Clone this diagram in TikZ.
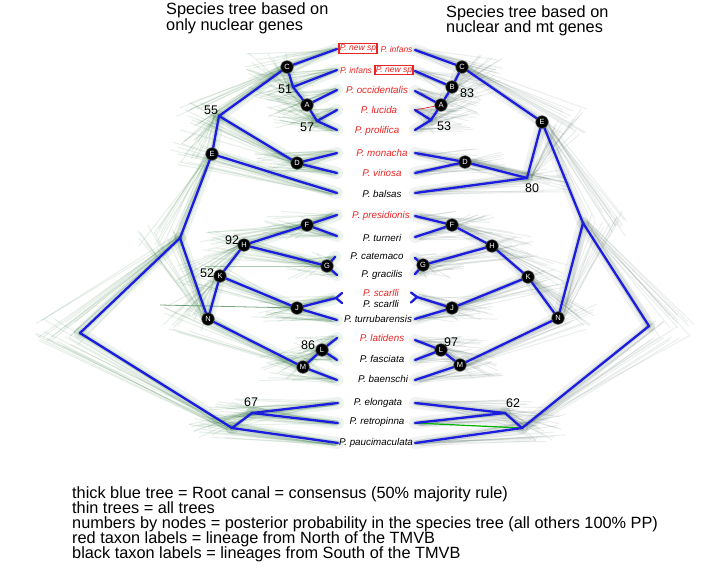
\documentclass[tikz,border=0pt]{standalone}
\usepackage{fontspec}
\setmainfont{Liberation Sans}
\usetikzlibrary{calc}
\definecolor{treeblue}{RGB}{28,28,225}
\definecolor{labred}{RGB}{232,36,36}
\definecolor{cloudL}{RGB}{30,105,45}
\definecolor{cloudR}{RGB}{70,100,85}
\tikzset{
  consensus/.style={draw=treeblue, line width=2.3pt, line cap=round, line join=round},
  haloL/.style={draw=cloudL, line width=12pt, opacity=0.08, line cap=round},
  haloR/.style={draw=cloudR, line width=12pt, opacity=0.08, line cap=round},
  coreL/.style={draw=cloudL, line width=5pt, opacity=0.14, line cap=round},
  coreR/.style={draw=cloudR, line width=5pt, opacity=0.14, line cap=round},
  fuzzL/.style={draw=cloudL, line width=1pt, opacity=0.11},
  fuzzR/.style={draw=cloudR, line width=1pt, opacity=0.11},
  clade/.style={circle, fill=black, draw=black!70, line width=0.6pt, inner sep=0pt, minimum size=12.5pt, text=white, font=\fontsize{7.5}{8}\selectfont},
  pp/.style={font=\fontsize{12.5}{13}\selectfont, inner sep=0pt},
  taxon/.style={font=\fontsize{9.8}{10}\selectfont\itshape, inner sep=0pt, anchor=base},
  redtaxon/.style={taxon, text=labred},
  blacktaxon/.style={taxon, text=black},
  smallred/.style={font=\fontsize{8.5}{9}\selectfont\itshape, inner sep=0pt, text=labred},
  newsp/.style={font=\fontsize{8.5}{9}\selectfont\itshape, text=labred, draw=labred, line width=1.3pt, inner sep=1pt},
  bigtext/.style={font=\fontsize{16.3}{15}\selectfont, anchor=base west, inner sep=0pt},
}
\begin{document}
\begin{tikzpicture}[x=1pt,y=-1pt]
\useasboundingbox (0,0) rectangle (709,568);
% ---------------- left tree coordinates
\coordinate (Lt1) at (337,49);  \coordinate (Lt2) at (337,70);
\coordinate (Lt3) at (337,90);  \coordinate (Lt4) at (337,110);
\coordinate (Lt5) at (337,130); \coordinate (Lt6) at (337,153);
\coordinate (Lt7) at (337,173); \coordinate (Lt8) at (337,193);
\coordinate (Lt9) at (337,215); \coordinate (Lt10) at (337,236);
\coordinate (Lt11) at (335,257); \coordinate (Lt12) at (337,275);
\coordinate (Lsc) at (336,298); \coordinate (Lsca) at (342,293); \coordinate (Lscb) at (342,303);
\coordinate (Lt14) at (337,320); \coordinate (Lt15) at (337,338);
\coordinate (Lt16) at (337,360); \coordinate (Lt17) at (337,380);
\coordinate (Lt18) at (338,403); \coordinate (Lt19) at (338,423);
\coordinate (Lt20) at (338,443);
\coordinate (LC) at (287,67);  \coordinate (L51) at (293,87);
\coordinate (LA) at (307,105); \coordinate (L57) at (317,121);
\coordinate (L55) at (219,116); \coordinate (LE) at (212,154);
\coordinate (LD) at (297,163); \coordinate (LF) at (307,225);
\coordinate (LG) at (327,266); \coordinate (LH) at (244,245);
\coordinate (LK) at (220,276); \coordinate (LJ) at (297,308);
\coordinate (LN) at (208,319); \coordinate (LM) at (303,367);
\coordinate (LL) at (322,350); \coordinate (Ling) at (180,238);
\coordinate (Lroot) at (80,333); \coordinate (L67) at (252,413);
\coordinate (Log) at (232,428);
\coordinate (Lx1) at (160,305); \coordinate (Lx2) at (205,266);
% ---------------- right tree coordinates
\coordinate (Rt1) at (415,50);  \coordinate (Rt2) at (415,71);
\coordinate (Rt3) at (415,91);  \coordinate (Rt4) at (415,110);
\coordinate (Rt5) at (415,130); \coordinate (Rt6) at (415,153);
\coordinate (Rt7) at (415,173); \coordinate (Rt8) at (415,193);
\coordinate (Rt9) at (415,216); \coordinate (Rt10) at (415,237);
\coordinate (Rt11) at (415,258); \coordinate (Rt12) at (415,274);
\coordinate (Rsc) at (417,297); \coordinate (Rsca) at (411,292.5); \coordinate (Rscb) at (411,302.5);
\coordinate (Rt14) at (415,319); \coordinate (Rt15) at (415,340);
\coordinate (Rt16) at (415,360); \coordinate (Rt17) at (415,380);
\coordinate (Rt18) at (415,403); \coordinate (Rt19) at (415,423);
\coordinate (Rt20) at (415,443);
\coordinate (RC) at (462,67);  \coordinate (RB) at (452,87);
\coordinate (RA) at (441,105); \coordinate (R53) at (431,120);
\coordinate (RE) at (542,122); \coordinate (RD) at (465,162);
\coordinate (R80) at (527,178); \coordinate (RF) at (452,225);
\coordinate (RG) at (423,265); \coordinate (RH) at (492,246);
\coordinate (RK) at (528,277); \coordinate (RJ) at (452,308);
\coordinate (RN) at (558,318); \coordinate (RM) at (460,365);
\coordinate (RL) at (441,350); \coordinate (Ring) at (583,223);
\coordinate (Rroot) at (649,326); \coordinate (R62) at (505,413);
\coordinate (Rog) at (522,428);
% ---------------- cloud of all trees
\pgfmathsetseed{11}
\foreach \a/\b in {Lroot/Ling, Lroot/Log, Ling/LE, Ling/LN, LE/L55, LE/Lt8, L55/LC, L55/LD, LD/Lt6, LD/Lt7, LC/Lt1, LC/L51, L51/Lt2, L51/LA, LA/Lt3, LA/L57, L57/Lt4, L57/Lt5, LN/LK, LN/LM, LK/LH, LK/LJ, LH/LF, LH/LG, LF/Lt9, LF/Lt10, LG/Lt11, LG/Lt12, LJ/Lsc, LJ/Lt14, LM/LL, LM/Lt17, LL/Lt15, LL/Lt16, Log/L67, Log/Lt20, L67/Lt18, L67/Lt19}{
  \draw[haloL] (\a) -- (\b);
  \draw[coreL] (\a) -- (\b);
  \foreach \i in {1,...,14}{
    \draw[fuzzL] ($(\a)+({-45*rnd},{14*rand})$) -- ($(\b)+({-6*rnd},{3*rand})$);
  }
}
\foreach \a/\b in {Rroot/Ring, Rroot/Rog, Ring/RE, Ring/RN, RE/RC, RE/R80, R80/RD, R80/Rt8, RD/Rt6, RD/Rt7, RC/Rt1, RC/RB, RB/Rt2, RB/RA, RA/Rt3, RA/R53, R53/Rt4, R53/Rt5, RN/RK, RN/RM, RK/RH, RK/RJ, RH/RF, RH/RG, RF/Rt9, RF/Rt10, RG/Rt11, RG/Rt12, RJ/Rsc, RJ/Rt14, RM/RL, RM/Rt17, RL/Rt15, RL/Rt16, Rog/R62, Rog/Rt20, R62/Rt18, R62/Rt19}{
  \draw[haloR] (\a) -- (\b);
  \draw[coreR] (\a) -- (\b);
  \foreach \i in {1,...,14}{
    \draw[fuzzR] ($(\a)+({45*rnd},{14*rand})$) -- ($(\b)+({6*rnd},{3*rand})$);
  }
}
\draw[cloudL, line width=0.8pt, opacity=0.6] (Lx1) -- (LJ);
\draw[cloudL, line width=0.6pt, opacity=0.35] (Lx2) -- (LG);
\draw[labred, line width=0.7pt] (Rt4) -- (RA);
\draw[green!70!black, line width=1.2pt] (Rt19) -- (Rog);
% ---------------- consensus trees
\foreach \a/\b in {Lroot/Ling, Lroot/Log, Ling/LE, Ling/LN, LE/L55, LE/Lt8, L55/LC, L55/LD, LD/Lt6, LD/Lt7, LC/Lt1, LC/L51, L51/Lt2, L51/LA, LA/Lt3, LA/L57, L57/Lt4, L57/Lt5, LN/LK, LN/LM, LK/LH, LK/LJ, LH/LF, LH/LG, LF/Lt9, LF/Lt10, LG/Lt11, LG/Lt12, LJ/Lsc, LJ/Lt14, Lsc/Lsca, Lsc/Lscb, LM/LL, LM/Lt17, LL/Lt15, LL/Lt16, Log/L67, Log/Lt20, L67/Lt18, L67/Lt19}{
  \draw[consensus] (\a) -- (\b);
}
\foreach \a/\b in {Rroot/Ring, Rroot/Rog, Ring/RE, Ring/RN, RE/RC, RE/R80, R80/RD, R80/Rt8, RD/Rt6, RD/Rt7, RC/Rt1, RC/RB, RB/Rt2, RB/RA, RA/Rt3, RA/R53, R53/Rt4, R53/Rt5, RN/RK, RN/RM, RK/RH, RK/RJ, RH/RF, RH/RG, RF/Rt9, RF/Rt10, RG/Rt11, RG/Rt12, RJ/Rsc, RJ/Rt14, Rsc/Rsca, Rsc/Rscb, RM/RL, RM/Rt17, RL/Rt15, RL/Rt16, Rog/R62, Rog/Rt20, R62/Rt18, R62/Rt19}{
  \draw[consensus] (\a) -- (\b);
}
% ---------------- clade markers
\foreach \p/\t in {LC/C, LA/A, LD/D, LE/E, LF/F, LG/G, LH/H, LK/K, LJ/J, LN/N, LL/L, LM/M,
                   RC/C, RB/B, RA/A, RD/D, RE/E, RF/F, RG/G, RH/H, RK/K, RJ/J, RN/N, RL/L, RM/M}{
  \node[clade] (c\p) at (\p) {\t};
}
% ---------------- posterior probabilities
\node[pp] (pL55) at (211,110) {55};
\node[pp] (pL51) at (285,89) {51};
\node[pp] (pL57) at (307,127) {57};
\node[pp] (pL92) at (232,240) {92};
\node[pp] (pL52) at (207,273) {52};
\node[pp] (pL86) at (308,345) {86};
\node[pp] (pL67) at (251,402) {67};
\node[pp] (pR83) at (467,93) {83};
\node[pp] (pR53) at (444,126) {53};
\node[pp] (pR80) at (532,188) {80};
\node[pp] (pR97) at (451,342) {97};
\node[pp] (pR62) at (513,403) {62};
% ---------------- taxon labels
\node[newsp] (x1a) at (358,48.5) {P. new sp};
\node[smallred] (x1b) at (396.5,49.5) {P. infans};
\node[smallred] (x2a) at (356,70) {P. infans};
\node[newsp] (x2b) at (394,70) {P. new sp};
\node[redtaxon] (x3) at (377,93.5) {P. occidentalis};
\node[redtaxon] (x4) at (379,113.5) {P. lucida};
\node[redtaxon] (x5) at (377,133.5) {P. prolifica};
\node[redtaxon] (x6) at (382,156) {P. monacha};
\node[redtaxon] (x7) at (382,176.5) {P. viriosa};
\node[blacktaxon] (x8) at (382,197.5) {P. balsas};
\node[redtaxon] (x9) at (381,218) {P. presidionis};
\node[blacktaxon] (x10) at (382,241) {P. turneri};
\node[blacktaxon] (x11) at (377,259.5) {P. catemaco};
\node[blacktaxon] (x12) at (382,277.5) {P. gracilis};
\node[redtaxon] (x13a) at (381,296) {P. scarlli};
\node[blacktaxon] (x13b) at (381,307.5) {P. scarlli};
\node[blacktaxon] (x14) at (378,322.5) {P. turrubarensis};
\node[redtaxon] (x15) at (382,341.5) {P. latidens};
\node[blacktaxon] (x16) at (382,362.5) {P. fasciata};
\node[blacktaxon] (x17) at (383,382.5) {P. baenschi};
\node[blacktaxon] (x18) at (378,405) {P. elongata};
\node[blacktaxon] (x19) at (377,424) {P. retropinna};
\node[blacktaxon] (x20) at (376,445.5) {P. paucimaculata};
% ---------------- titles
\node[bigtext] (tl1) at (166,14.5) {Species tree based on};
\node[bigtext] (tl2) at (166,30) {only nuclear genes};
\node[bigtext] (tr1) at (446,17) {Species tree based on};
\node[bigtext] (tr2) at (446,32.5) {nuclear and mt genes};
% ---------------- legend
\node[bigtext] (lg1) at (72,498) {thick blue tree = Root canal = consensus (50\% majority rule)};
\node[bigtext] (lg2) at (72,513) {thin trees = all trees};
\node[bigtext] (lg3) at (72,528) {numbers by nodes = posterior probability in the species tree (all others 100\% PP)};
\node[bigtext] (lg4) at (72,543) {red taxon labels = lineage from North of the TMVB};
\node[bigtext] (lg5) at (72,558) {black taxon labels = lineages from South of the TMVB};
\end{tikzpicture}
\end{document}
